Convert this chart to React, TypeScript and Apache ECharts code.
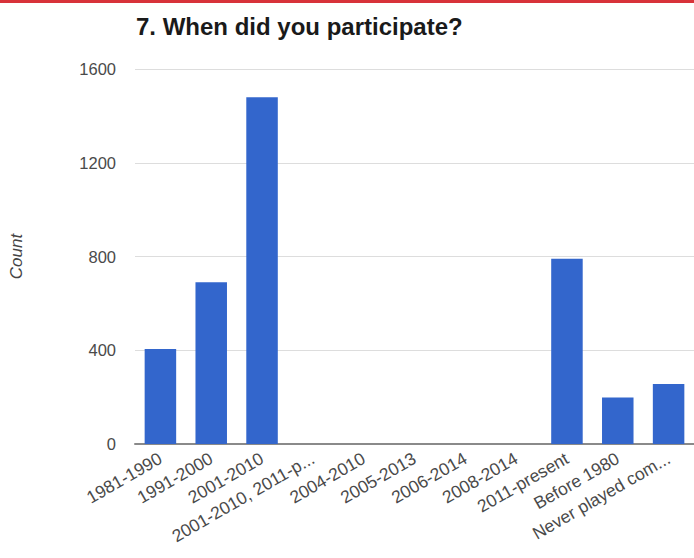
import React, { useEffect, useRef } from "react";
import * as echarts from "echarts";

const categories = [
  "1981-1990",
  "1991-2000",
  "2001-2010",
  "2001-2010, 2011-p...",
  "2004-2010",
  "2005-2013",
  "2006-2014",
  "2008-2014",
  "2011-present",
  "Before 1980",
  "Never played com...",
];

const counts = [405, 690, 1480, 0, 0, 0, 0, 0, 790, 198, 256];

const yTicks = [0, 400, 800, 1200, 1600];

export default function App() {
  const ref = useRef<HTMLDivElement>(null);

  useEffect(() => {
    if (!ref.current) return;
    const chart = echarts.init(ref.current, undefined, { renderer: "svg" });
    chart.setOption({
      animation: false,
      backgroundColor: "#ffffff",
      textStyle: { fontFamily: "Liberation Sans, Arial, sans-serif" },
      title: {
        text: "7. When did you participate?",
        left: 131,
        top: 9,
        textStyle: {
          fontFamily: "Liberation Sans, Arial, sans-serif",
          fontSize: 24,
          fontWeight: "bold",
          color: "#1a1a1a",
        },
      },
      graphic: [
        {
          type: "rect",
          left: 0,
          top: 0,
          shape: { width: 694, height: 3 },
          style: { fill: "#d8323a" },
        },
      ],
      grid: { left: 135, top: 69, width: 564, height: 375 },
      xAxis: {
        type: "category",
        data: categories,
        axisTick: { show: false },
        axisLine: { show: true, lineStyle: { color: "#8a8a8a", width: 2 } },
        axisLabel: {
          interval: 0,
          rotate: 30,
          margin: 13,
          fontSize: 17.5,
          color: "#4a4a4a",
        },
      },
      yAxis: {
        type: "value",
        min: yTicks[0],
        max: yTicks[yTicks.length - 1],
        interval: 400,
        name: "Count",
        nameLocation: "middle",
        nameGap: 110,
        nameTextStyle: {
          fontSize: 17,
          fontStyle: "italic",
          color: "#444444",
        },
        axisLine: { show: false },
        axisTick: { show: false },
        axisLabel: {
          fontSize: 16.5,
          color: "#4a4a4a",
          margin: 19,
          formatter: (v: number) => String(v),
        },
        splitLine: { lineStyle: { color: "#dddddd", width: 1 } },
      },
      series: [
        {
          type: "bar",
          data: counts,
          barCategoryGap: "38%",
          itemStyle: { color: "#3366cc" },
        },
      ],
    });
    return () => chart.dispose();
  }, []);

  return (
    <div
      ref={ref}
      style={{ position: "absolute", left: 0, top: 0, width: 694, height: 558 }}
    />
  );
}
